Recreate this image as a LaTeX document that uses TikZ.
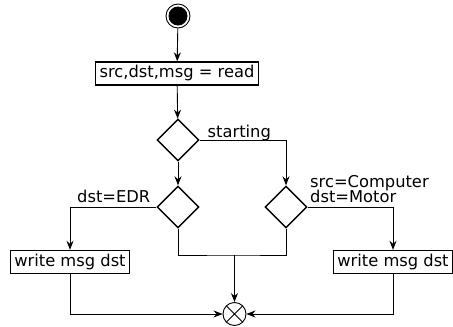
\documentclass[tikz,border=0pt]{standalone}
\usepackage{fontspec}
\setmainfont{DejaVu Sans}
\usepackage{tikz}
\usetikzlibrary{shapes.geometric, arrows.meta}
\tikzstyle{arrow} = [line width=0.9pt,->,>={Stealth[length=9pt,width=7pt,inset=3pt]}]
\tikzstyle{line} = [line width=0.9pt]
\tikzstyle{action} = [rectangle, draw, line width=1.4pt, minimum height=23pt, inner xsep=4pt, inner ysep=0pt]
\tikzstyle{decision} = [diamond, draw, line width=1.4pt, minimum width=42pt, minimum height=42pt, inner sep=0pt]
\tikzstyle{guard} = [inner sep=0pt, align=left, font=\fontsize{16.3}{15}\selectfont]

\begin{document}
\begin{tikzpicture}[x=1pt, y=-1pt, font=\fontsize{16.3}{15}\selectfont]
                \useasboundingbox (0,0) rectangle (453,327);
                \node (start) [circle, draw, line width=0.9pt, minimum size=24pt, inner sep=0pt] at (178,16) {};
                \fill (start) circle (9.5pt);
                \node (read) [action] at (177,73.5) {src,dst,msg = read};
                \node (d1) [decision] at (178,140) {};
                \node (d2) [decision] at (178,207) {};
                \node (d3) [decision] at (286,207) {};
                \node (wl) [action] at (70,262) {write msg dst};
                \node (wr) [action] at (393,262) {write msg dst};
                \node (merge) [circle, draw, line width=0.9pt, minimum size=23pt, inner sep=0pt,
                    path picture={\draw[line width=0.9pt] (path picture bounding box.north west) -- (path picture bounding box.south east)
                        (path picture bounding box.north east) -- (path picture bounding box.south west);}] at (234.5,314) {};
                \coordinate (join) at (234.5,255);

                \node (lstart) [guard, anchor=base west] at (207.5,137) {starting};
                \node (ledr) [guard, anchor=base east] at (150.5,202.5) {dst=EDR};
                \node (lmotor) [guard, anchor=base west] at (310,202) {src=Computer\\[-2.5pt]dst=Motor};

                \draw [arrow] (start) -- (read);
                \draw [arrow] (read) -- (d1);
                \draw [arrow] (d1) -- (d2);
                \draw [arrow] (d1.east) -| (d3.north);
                \draw [arrow] (d2.west) -| (wl.north);
                \draw [arrow] (d3.east) -| (wr.north);
                \draw [line] (d2.south) |- (join) -| (d3.south);
                \draw [arrow] (join) -- (merge);
                \draw [arrow] (wl.south) |- (merge.west);
                \draw [arrow] (wr.south) |- (merge.east);
            \end{tikzpicture}
\end{document}
